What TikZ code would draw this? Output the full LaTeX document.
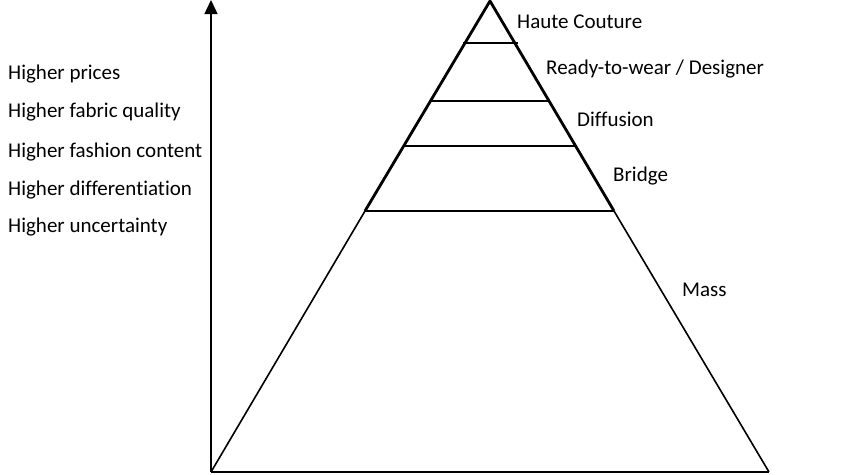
\documentclass[tikz,border=0pt]{standalone}
\usepackage{fontspec}
\setmainfont{Carlito}[Ligatures={NoCommon}]
\usetikzlibrary{arrows.meta}
\begin{document}
\begin{tikzpicture}[x=1pt,y=-1pt,
  lbl/.style={anchor=west,inner sep=0pt,font=\fontsize{21}{24}\selectfont,yshift=-1.5pt},
  edgethick/.style={line width=2.8pt},
  edgethin/.style={line width=1.6pt},
  level/.style={line width=1.7pt}]
\useasboundingbox (0,0) rectangle (850,474);
\coordinate (apex) at (490,1);
\coordinate (bl) at (211,472);
\coordinate (br) at (769,472);
\coordinate (l4) at (365,211);
\coordinate (r4) at (614,211);
\coordinate (l1) at (463,43);
\coordinate (r1) at (518,43);
\coordinate (l2) at (430,101);
\coordinate (r2) at (550,101);
\coordinate (l3) at (404,146);
\coordinate (r3) at (576,146);
\coordinate (axb) at (211,472);
\coordinate (axt) at (211,0);
% axis
\draw[line width=1.4pt,-{Triangle[length=14pt,width=13pt]}] (axb) -- (axt);
% pyramid
\draw[edgethick,line join=miter] (l4) -- (apex) -- (r4);
\draw[edgethin] (l4) -- (bl);
\draw[edgethin] (r4) -- (br);
\draw[edgethin] (bl) -- (br);
\draw[level] (l1) -- (r1);
\draw[level] (l2) -- (r2);
\draw[level] (l3) -- (r3);
\draw[level] (l4) -- (r4);
% labels
\node[lbl] (hc) at (517,20) {Haute Couture};
\node[lbl] (rw) at (546,68) {Ready-to-wear / Designer};
\node[lbl] (df) at (577,118) {Diffusion};
\node[lbl] (br2) at (613,175) {Bridge};
\node[lbl] (ms) at (682,288) {Mass};
\node[lbl] (t1) at (8,73) {Higher prices};
\node[lbl] (t2) at (8,111) {Higher fabric quality};
\node[lbl] (t3) at (8,151) {Higher fashion content};
\node[lbl] (t4) at (8,189) {Higher differentiation};
\node[lbl] (t5) at (8,226) {Higher uncertainty};
\end{tikzpicture}
\end{document}
